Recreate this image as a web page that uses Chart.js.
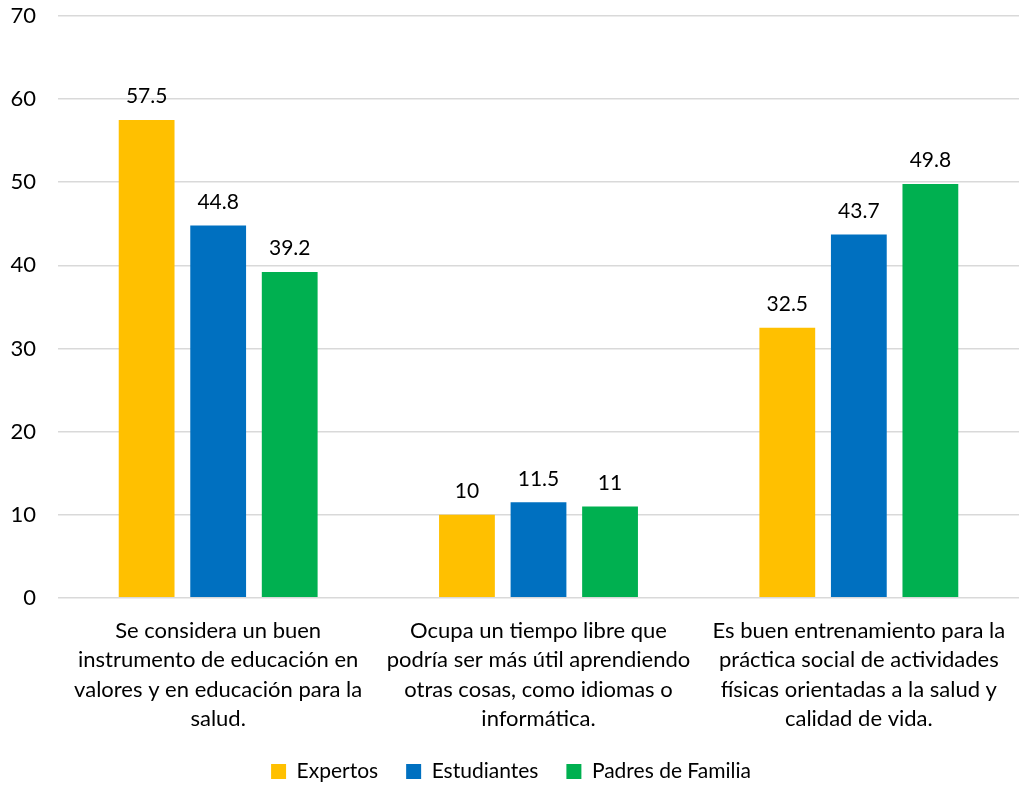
<!DOCTYPE html>
<html>
<head>
    <title>Grafico</title>
    <script src="https://cdn.jsdelivr.net/npm/chart.js"></script>
    <style>
        body { margin: 0; background: #fff; }
        #box { width: 1019px; height: 785px; position: relative; }
    </style>
</head>
<body>
    <div id="box"><canvas id="grafico"></canvas></div>
</body>
<script>
    const categorias = [
        ['Se considera un buen', 'instrumento de educación en', 'valores y en educación para la', 'salud.'],
        ['Ocupa un tiempo libre que', 'podría ser más útil aprendiendo', 'otras cosas, como idiomas o', 'informática.'],
        ['Es buen entrenamiento para la', 'práctica social de actividades', 'físicas orientadas a la salud y', 'calidad de vida.']
    ];
    const expertos = [57.5, 10, 32.5];
    const estudiantes = [44.8, 11.5, 43.7];
    const padres = [39.2, 11, 49.8];
    const ticksY = [0, 10, 20, 30, 40, 50, 60, 70];

    const fuente = 'Lato, "Open Sans", sans-serif';

    // etiquetas encima de cada barra
    const etiquetas = {
        id: 'etiquetas',
        afterDatasetsDraw(chart) {
            const c = chart.ctx;
            c.save();
            c.font = '21px ' + fuente;
            c.fillStyle = '#000';
            c.textAlign = 'center';
            c.textBaseline = 'bottom';
            chart.data.datasets.forEach((ds, i) => {
                chart.getDatasetMeta(i).data.forEach((bar, j) => {
                    c.fillText(ds.data[j], bar.x, bar.y - 13);
                });
            });
            c.restore();
        }
    };

    const ctx = document.getElementById('grafico').getContext('2d');
    var grafico = new Chart(ctx, {
        type: 'bar',
        data: {
            labels: categorias,
            datasets: [
                { label: 'Expertos', data: expertos, backgroundColor: '#FFC000' },
                { label: 'Estudiantes', data: estudiantes, backgroundColor: '#0070C0' },
                { label: 'Padres de Familia', data: padres, backgroundColor: '#00B050' }
            ]
        },
        options: {
            responsive: true,
            maintainAspectRatio: false,
            animation: false,
            layout: { padding: { top: 0, right: -3, left: 0, bottom: -7 } },
            datasets: {
                bar: { categoryPercentage: 0.67, barPercentage: 0.78 }
            },
            scales: {
                x: {
                    grid: { display: false },
                    border: { display: false },
                    afterFit: (s) => { s.paddingLeft = 0; s.paddingRight = 0; s.height -= 11; },
                    ticks: {
                        color: '#000',
                        font: { family: fuente, size: 22, lineHeight: 1.32 },
                        padding: 11,
                        maxRotation: 0,
                        autoSkip: false
                    }
                },
                y: {
                    min: 0,
                    max: 70,
                    afterBuildTicks: (axis) => { axis.ticks = ticksY.map(v => ({ value: v })); },
                    afterFit: (s) => { s.width = 58; s.paddingTop = 16; s.paddingBottom = 0; },
                    grid: { color: '#d9d9d9', lineWidth: 1.5, drawTicks: false },
                    border: { display: false },
                    ticks: {
                        color: '#000',
                        font: { family: fuente, size: 22 },
                        padding: 22
                    }
                }
            },
            plugins: {
                legend: {
                    position: 'bottom',
                    labels: {
                        color: '#000',
                        font: { family: fuente, size: 21 },
                        boxWidth: 15,
                        boxHeight: 15,
                        padding: 28
                    }
                },
                tooltip: { enabled: false }
            }
        },
        plugins: [etiquetas]
    });
</script>
</html>
